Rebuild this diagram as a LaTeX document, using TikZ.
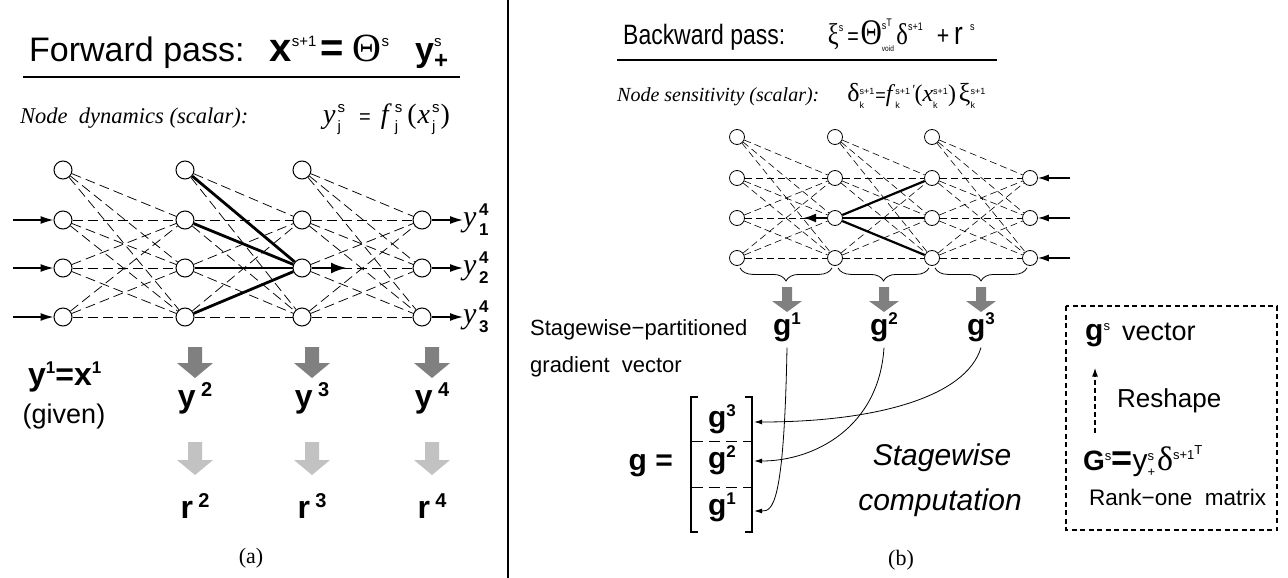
\documentclass[tikz,border=0pt]{standalone}
\usepackage{fontspec}
\setmainfont{Liberation Sans}
\newfontfamily\tms{Liberation Serif}
\usetikzlibrary{arrows.meta,positioning,calc,decorations.pathreplacing}
\definecolor{arrowdark}{gray}{0.5}
\definecolor{arrowlight}{gray}{0.76}
% raised small text, and a super/sub stack
\newcommand{\ix}[3]{\raisebox{#1}{\fontsize{#2}{#2}\selectfont #3}}
\newcommand{\ixx}[5]{\setbox0\hbox{\ix{#1}{#3}{#4}}\setbox2\hbox{\ix{#2}{#3}{#5}}%
  \ifdim\wd0>\wd2 \rlap{\box2}\box0\else\rlap{\box0}\box2\fi}
\tikzset{
  unit/.style={circle,draw,fill=white,inner sep=0pt,minimum size=18pt,line width=1pt},
  sunit/.style={unit,minimum size=15pt,line width=0.8pt},
  link/.style={dash pattern=on 10pt off 5pt,line width=0.75pt},
  slink/.style={dash pattern=on 7pt off 4pt,line width=0.6pt},
  strong/.style={line width=2.8pt},
  feed/.style={line width=1.3pt,-{Latex[length=13pt,width=8pt]}},
  pointer/.style={line width=0.8pt,-{Latex[length=8pt,width=5pt]}},
  txt/.style={inner sep=0pt},
  pics/fatdown/.style 2 args={code={\fill[#1] (-7,0) -- (7,0) -- (7,#2-15) -- (18,#2-15) -- (0,#2) -- (-18,#2-15) -- (-7,#2-15) -- cycle;}},
  pics/slimdown/.style={code={\fill[arrowdark] (-5,0) -- (5,0) -- (5,14) -- (15,14) -- (0,25) -- (-15,14) -- (-5,14) -- cycle;}}
}
\begin{document}
\begin{tikzpicture}[x=1pt,y=-1pt]
  \useasboundingbox (0,0) rectangle (1288,578);
  \draw[line width=1.5pt] (508,0) -- (508,578);

  % ---------- (a) forward pass
  \node[txt,anchor=base west] (ftitle) at (29,62) {\fontsize{34}{34}\selectfont Forward pass:\hspace{25pt}{\fontsize{40}{40}\selectfont\bfseries x}\ix{15pt}{15pt}{s+1}\hspace{4pt}{\fontsize{40}{40}\selectfont\bfseries =}\hspace{9pt}{\tms\fontsize{40}{40}\selectfont Θ}\ix{15pt}{15pt}{s}\hspace{26pt}{\bfseries y}\ixx{15pt}{-7pt}{15pt}{s}{\fontsize{24}{24}\selectfont\bfseries +}};
  \draw[line width=1.3pt] (23,77) -- (460,77);
  \node[txt,anchor=base west] (fdyn) at (20,123) {\tms\itshape\fontsize{22.5}{22.5}\selectfont Node\ \ dynamics (scalar):};
  \node[txt,anchor=base west] (fdynf) at (323,123) {{\tms\itshape\fontsize{28}{28}\selectfont y\/}\hspace{2pt}\ixx{10pt}{-8pt}{15pt}{s}{j}\hspace{14pt}{\fontsize{20}{20}\selectfont =}\hspace{10pt}{\tms\itshape\fontsize{28}{28}\selectfont f\/}\hspace{3pt}\ixx{10pt}{-8pt}{15pt}{s}{j}\hspace{5pt}{\tms\fontsize{28}{28}\selectfont (\hspace{1pt}\textit{x\/}}\hspace{2pt}\ixx{10pt}{-8pt}{15pt}{s}{j}\hspace{1pt}{\tms\fontsize{28}{28}\selectfont )}};

  \foreach \c/\x in {1/63,2/185,3/302,4/422}
    \foreach \r/\y in {1/220,2/268,3/317}
      \node[unit] (L\c\r) at (\x,\y) {};
  \foreach \c/\x in {1/63,2/185,3/302}
    \node[unit] (L\c0) at (\x,170) {};
  \foreach \c/\n in {1/2,2/3,3/4}
    \foreach \i in {0,1,2,3}
      \foreach \j in {1,2,3}
        \draw[link] (L\c\i) -- (L\n\j);
  \foreach \i in {0,...,3}
    \draw[strong] (L2\i) -- (L32);
  \coordinate (fout) at (347,268);
  \draw[strong,-{Latex[length=16pt,width=11pt]}] (L32) -- (fout);
  \foreach \r/\y in {1/220,2/268,3/317} {
    \coordinate (fin\r) at (13,\y);
    \draw[feed] (fin\r) -- (L1\r);
    \node[txt,anchor=west] (yo\r) at (463,\y) {{\tms\itshape\fontsize{30}{30}\selectfont y\/}\hspace{2.5pt}\ixx{11pt}{-9pt}{17pt}{\bfseries 4}{\bfseries \r}};
    \draw[feed] (L4\r) -- (yo\r);
  }

  \node[txt,anchor=base west] (yone) at (28,385) {\fontsize{32}{32}\selectfont\bfseries y\ix{12pt}{17pt}{1}=x\ix{12pt}{17pt}{1}};
  \node[txt,anchor=base] (given) at (64,423) {\fontsize{27}{27}\selectfont (given)};
  \foreach \c/\x in {2/195,3/312,4/432} {
    \pic at (\x,347) {fatdown={arrowdark}{31}};
    \node[txt,anchor=base] (y\c) at (\x,407) {\fontsize{32}{32}\selectfont\bfseries y\,\ix{11pt}{20pt}{\c}};
    \pic at (\x,442) {fatdown={arrowlight}{33}};
    \node[txt,anchor=base] (r\c) at (\x,518) {\fontsize{32}{32}\selectfont\bfseries r\,\ix{11pt}{20pt}{\c}};
  }
  \node[txt,anchor=base] (capa) at (251,563) {\tms\fontsize{22}{22}\selectfont (a)};

  % ---------- (b) backward pass
  \node[txt,anchor=base west] (btitle) at (623,45) {\scalebox{0.82}[1]{\fontsize{28}{28}\selectfont Backward pass:\hspace{52pt}{\tms\fontsize{30}{30}\selectfont ξ}\ix{13pt}{11pt}{s}\hspace{5pt}{\fontsize{24}{24}\selectfont =}\hspace{2pt}{\tms\fontsize{36}{36}\selectfont Θ}\ixx{15pt}{-7pt}{11pt}{s\ix{3pt}{11pt}{T}}{\fontsize{8}{8}\selectfont void}\hspace{3pt}{\tms\fontsize{30}{30}\selectfont δ}\ix{14pt}{11pt}{s+1}\hspace{17pt}{\fontsize{26}{26}\selectfont +}\hspace{6pt}{\fontsize{32}{32}\selectfont r}\hspace{9pt}\ix{14pt}{11pt}{s}}};
  \draw[line width=1.3pt] (617,60) -- (997,60);
  \node[txt,anchor=base west] (bsens) at (617,102) {{\tms\itshape\fontsize{20}{20}\selectfont Node sensitivity (scalar):}\hspace{28pt}{\tms\fontsize{26}{26}\selectfont δ}\ixx{8pt}{-6pt}{9pt}{s+1}{k}\hspace{1pt}{\fontsize{18}{18}\selectfont =}{\tms\itshape\fontsize{24}{24}\selectfont f\/}\ixx{8pt}{-6pt}{9pt}{s+1\,{\tms\itshape\fontsize{14}{14}\selectfont '}}{k}{\tms\fontsize{24}{24}\selectfont (\textit{x\/}}\ixx{8pt}{-6pt}{9pt}{s+1}{k}{\tms\fontsize{24}{24}\selectfont )}\hspace{3pt}{\tms\fontsize{26}{26}\selectfont ξ}\ixx{8pt}{-6pt}{9pt}{s+1}{k}};

  \foreach \c/\x in {1/737,2/835,3/932,4/1030}
    \foreach \r/\y in {1/178,2/218,3/258}
      \node[sunit] (R\c\r) at (\x,\y) {};
  \foreach \c/\x in {1/737,2/835,3/932}
    \node[sunit] (R\c0) at (\x,137) {};
  \foreach \c/\n in {1/2,2/3,3/4}
    \foreach \i in {0,1,2,3}
      \foreach \j in {1,2,3}
        \draw[slink] (R\c\i) -- (R\n\j);
  \foreach \j in {1,2,3}
    \draw[strong,line width=2.2pt] (R22) -- (R3\j);
  \coordinate (bout) at (803,218);
  \draw[line width=2.2pt,-{Latex[length=13pt,width=9pt]}] (R22) -- (bout);
  \foreach \r/\y in {1/178,2/218,3/258} {
    \coordinate (bin\r) at (1070,\y);
    \draw[line width=1.1pt,-{Latex[length=11pt,width=7pt]}] (bin\r) -- (R4\r);
  }
  \foreach \c/\n in {1/2,2/3,3/4}
    \draw[line width=0.8pt,decorate,decoration={brace,mirror,amplitude=13pt}]
      ([xshift=3pt,yshift=-2pt]R\c3.south) -- ([xshift=-3pt,yshift=-2pt]R\n3.south);
  \foreach \k/\x in {1/787,2/884,3/981} {
    \pic at (\x,287) {slimdown};
    \node[txt,anchor=base] (g\k) at (\x,335) {\fontsize{30}{30}\selectfont\bfseries g\ix{11pt}{17pt}{\k}};
  }
  \node[txt,anchor=base west] (part1) at (530,335) {\fontsize{22}{22}\selectfont Stagewise−partitioned};
  \node[txt,anchor=base west] (part2) at (530,372) {\fontsize{22}{22}\selectfont gradient\ \ vector};

  % stacked gradient
  \node[txt,anchor=base east] (geq) at (673,470) {\fontsize{30}{30}\selectfont\bfseries g =};
  \foreach \k/\y in {3/427,2/468,1/515}
    \node[txt,anchor=base,minimum width=64pt] (m\k) at (722,\y) {\fontsize{30}{30}\selectfont\bfseries g\ix{11pt}{17pt}{\k}};
  \draw[line width=1.1pt] (698,397) -- (691,397) -- (691,532) -- (698,532);
  \draw[line width=1.1pt] (745,397) -- (752,397) -- (752,532) -- (745,532);
  \draw[dash pattern=on 11pt off 6pt,line width=0.9pt] (692,441) -- (752,441);
  \draw[dash pattern=on 11pt off 6pt,line width=0.9pt] (692,487) -- (752,487);
  \draw[pointer] ([yshift=-6pt]g1.south) .. controls +(-3,160) and +(18,0) .. ([yshift=4pt]m1.base east);
  \draw[pointer] ([yshift=-6pt]g2.south) .. controls +(-5,80) and +(60,0) .. ([yshift=7pt]m2.base east);
  \draw[pointer] ([yshift=-6pt]g3.south) .. controls +(-15,50) and +(120,0) .. ([yshift=5pt]m3.base east);

  \node[txt,anchor=base] (sc1) at (942,465) {\itshape\fontsize{30}{30}\selectfont Stagewise};
  \node[txt,anchor=base] (sc2) at (940,510) {\itshape\fontsize{30}{30}\selectfont computation};
  \node[txt,anchor=base] (capb) at (901,565) {\tms\fontsize{22}{22}\selectfont (b)};

  % reshape box
  \draw[line width=1.8pt,dash pattern=on 5pt off 3.5pt] (1066,306) rectangle (1277,530);
  \node[txt,anchor=base west] (gvec) at (1085,340) {\fontsize{30}{30}\selectfont\textbf{g}\ix{10pt}{13pt}{s}\hspace{12pt}{\fontsize{27}{27}\selectfont vector}};
  \node[txt,anchor=base west] (resh) at (1117,407) {\fontsize{26}{26}\selectfont Reshape};
  \node[txt,anchor=base west] (gmat) at (1083,470) {\fontsize{28}{28}\selectfont\textbf{G}\ix{10pt}{13pt}{s}{\fontsize{36}{36}\selectfont\bfseries =}{\fontsize{30}{30}\selectfont y}\ixx{10pt}{-6pt}{13pt}{s}{+}\hspace{2pt}{\tms\fontsize{34}{34}\selectfont δ}\ix{11pt}{13pt}{s+1\ix{5pt}{13pt}{T}}};
  \node[txt,anchor=base west] (rank) at (1089,505) {\fontsize{22.5}{22.5}\selectfont Rank−one\ \ matrix};
  \draw[line width=1.5pt,dash pattern=on 5pt off 3pt,-{Latex[length=9pt,width=6pt]}]
    ([xshift=12pt,yshift=12pt]gmat.north west) -- ([xshift=10pt,yshift=-21pt]gvec.south west);
\end{tikzpicture}
\end{document}
